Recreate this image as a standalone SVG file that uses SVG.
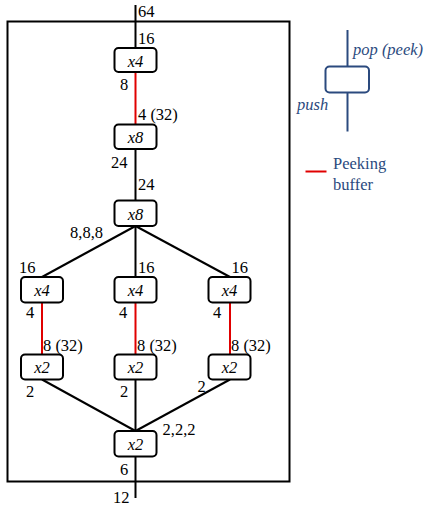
<svg xmlns="http://www.w3.org/2000/svg" width="438" height="507" viewBox="0 0 438 507">
<style>
.t{font-family:"Liberation Serif",serif;font-size:16.5px;fill:#000}
.n{text-anchor:middle;font-style:italic}
.box{fill:#fff;stroke:#000;stroke-width:2}
.e{stroke:#000;stroke-width:2;fill:none}
.r{stroke:#e00000;stroke-width:2;fill:none}
.lg{stroke:#2b4a7e;stroke-width:2;fill:none}
.lt{fill:#2b4a7e}
</style>
<rect x="7.5" y="21.5" width="282" height="460" fill="none" stroke="#000" stroke-width="2"/>
<g id="connectors">
<line class="e" x1="135.5" y1="5" x2="135.5" y2="48"/>
<line class="r" x1="135.5" y1="72" x2="135.5" y2="124"/>
<line class="e" x1="135.5" y1="149" x2="135.5" y2="200"/>
<line class="e" x1="135.5" y1="226" x2="42" y2="277"/>
<line class="e" x1="135.5" y1="226" x2="135.5" y2="277"/>
<line class="e" x1="135.5" y1="226" x2="230" y2="277"/>
<line class="r" x1="42" y1="302.5" x2="42" y2="354.5"/>
<line class="r" x1="135.5" y1="302.5" x2="135.5" y2="354.5"/>
<line class="r" x1="230" y1="302.5" x2="230" y2="354.5"/>
<line class="e" x1="42" y1="379.5" x2="135.5" y2="431"/>
<line class="e" x1="135.5" y1="379.5" x2="135.5" y2="431"/>
<line class="e" x1="230" y1="379.5" x2="135.5" y2="431"/>
<line class="e" x1="135.5" y1="456.5" x2="135.5" y2="498"/>
</g>
<g id="n1"><rect class="box" x="114.5" y="48" width="42" height="24" rx="4"/><text class="t n" x="135.5" y="66.5">x4</text></g>
<g id="n2"><rect class="box" x="114.5" y="124.5" width="42" height="24.5" rx="4"/><text class="t n" x="135.5" y="143">x8</text></g>
<g id="n3"><rect class="box" x="114.5" y="200.5" width="42" height="25.5" rx="4"/><text class="t n" x="135.5" y="219.5">x8</text></g>
<g id="n4"><rect class="box" x="21" y="277" width="42" height="25.5" rx="4"/><text class="t n" x="42" y="296">x4</text></g>
<g id="n5"><rect class="box" x="114.5" y="277" width="42" height="25.5" rx="4"/><text class="t n" x="135.5" y="296">x4</text></g>
<g id="n6"><rect class="box" x="208.5" y="277" width="42" height="25.5" rx="4"/><text class="t n" x="229.5" y="296">x4</text></g>
<g id="n7"><rect class="box" x="21" y="354.5" width="42" height="25" rx="4"/><text class="t n" x="42" y="373">x2</text></g>
<g id="n8"><rect class="box" x="114.5" y="354.5" width="42" height="25" rx="4"/><text class="t n" x="135.5" y="373">x2</text></g>
<g id="n9"><rect class="box" x="208.5" y="354.5" width="42" height="25" rx="4"/><text class="t n" x="229.5" y="373">x2</text></g>
<g id="n10"><rect class="box" x="114.5" y="431" width="42" height="25.5" rx="4"/><text class="t n" x="135.5" y="450">x2</text></g>
<g id="labels">
<text class="t" x="138" y="17">64</text>
<text class="t" x="138" y="44">16</text>
<text class="t" x="120" y="90">8</text>
<text class="t" x="138" y="120">4 (32)</text>
<text class="t" x="111" y="168">24</text>
<text class="t" x="138" y="190">24</text>
<text class="t" x="70" y="238">8,8,8</text>
<text class="t" x="19" y="273">16</text>
<text class="t" x="138" y="273">16</text>
<text class="t" x="231.5" y="273">16</text>
<text class="t" x="26" y="318">4</text>
<text class="t" x="119" y="318">4</text>
<text class="t" x="213" y="318">4</text>
<text class="t" x="43" y="351">8 (32)</text>
<text class="t" x="137" y="351">8 (32)</text>
<text class="t" x="231" y="351">8 (32)</text>
<text class="t" x="26" y="397">2</text>
<text class="t" x="120" y="397">2</text>
<text class="t" x="197.5" y="392">2</text>
<text class="t" x="162.5" y="435">2,2,2</text>
<text class="t" x="120" y="475">6</text>
<text class="t" x="113" y="503">12</text>
</g>
<g id="legend">
<line class="lg" x1="347.5" y1="30" x2="347.5" y2="131.5"/>
<rect x="325.5" y="66.5" width="43.5" height="26" rx="4" fill="#fff" stroke="#2b4a7e" stroke-width="2"/>
<text class="t lt" x="353" y="55" font-style="italic">pop (peek)</text>
<text class="t lt" x="297" y="110" font-style="italic">push</text>
<line class="r" x1="305.5" y1="171.5" x2="326.5" y2="171.5"/>
<text class="t lt" x="333" y="169">Peeking</text>
<text class="t lt" x="333" y="190">buffer</text>
</g>
</svg>
